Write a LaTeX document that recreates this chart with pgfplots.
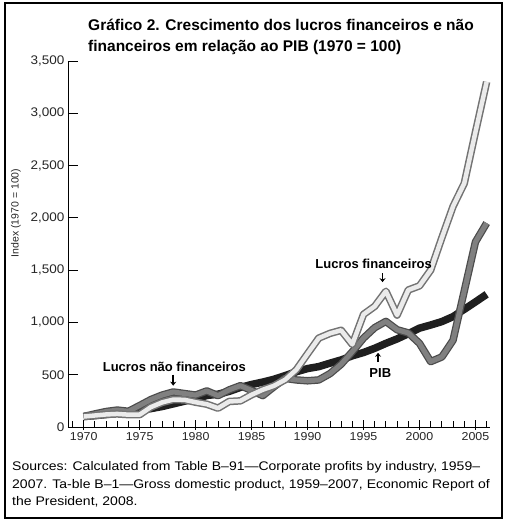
\documentclass[border=0pt]{standalone}
\usepackage{fontspec}
\setmainfont{Liberation Sans}
\newfontfamily\srcfont[FakeStretch=1.12]{Liberation Sans}
\newfontfamily\tickfont[FakeStretch=1.08]{Liberation Sans}
\usepackage{pgfplots}
\usepackage{pgfplotstable}
\pgfplotsset{compat=1.18}
\usetikzlibrary{arrows.meta}

\pgfplotstableread{
year pib nf fin
1970 100 100 100
1971 108.5 125 110
1972 119.2 148 120
1973 133.1 162 125
1974 144.4 150 118
1975 157.8 205 118
1976 175.8 262 190
1977 195.6 305 235
1978 221.0 335 262
1979 246.8 320 260
1980 268.6 305 237
1981 301.2 345 218
1982 313.4 300 180
1983 340.6 355 244
1984 378.7 395 250
1985 406.4 350 308
1986 429.7 300 356
1987 456.4 385 394
1988 491.5 465 452
1989 528.1 450 548
1990 558.8 442 700
1991 577.4 450 850
1992 610.3 510 895
1993 641.1 600 925
1994 681.0 720 790
1995 712.3 850 1077
1996 752.7 950 1154
1997 799.6 1010 1298
1998 842.3 930 1070
1999 892.5 900 1310
2000 945.3 800 1350
2001 975.3 625 1500
2002 1008.1 670 1810
2003 1055.4 830 2110
2004 1125.3 1300 2330
2005 1196.2 1770 2820
2006 1269.0 1950 3300
}\data

\begin{document}
\begin{tikzpicture}
\useasboundingbox (-68pt,-96pt) rectangle (440pt,427pt);
\draw[line width=1.1pt] (-63pt,424pt) rectangle (434pt,-91pt);
\node[anchor=base west, inner sep=0pt, font=\fontsize{15.5}{18}\selectfont\bfseries] at (20pt,396pt) {Gráfico 2. Crescimento dos lucros financeiros e não};
\node[anchor=base west, inner sep=0pt, font=\fontsize{15.5}{18}\selectfont\bfseries] at (20pt,375pt) {financeiros em relação ao PIB (1970 = 100)};
\node[anchor=base west, inner sep=0pt, font=\srcfont\fontsize{12.5}{15}\selectfont] at (-56pt,-43pt) {Sources: Calculated from Table B–91—Corporate profits by industry, 1959–};
\node[anchor=base west, inner sep=0pt, font=\srcfont\fontsize{12.5}{15}\selectfont] at (-56pt,-61pt) {2007. Ta-ble B–1—Gross domestic product, 1959–2007, Economic Report of};
\node[anchor=base west, inner sep=0pt, font=\srcfont\fontsize{12.5}{15}\selectfont] at (-56pt,-78pt) {the President, 2008.};
\node[rotate=90, inner sep=0pt, font=\fontsize{10.5}{12}\selectfont, text=black!85] at (-52pt,214pt) {Index (1970 = 100)};
\begin{axis}[
  at={(0pt,0pt)}, anchor=south west,
  scale only axis, width=422pt, height=366pt,
  xmin=1968.6, xmax=2006.3, ymin=0, ymax=3500,
  axis x line*=bottom, axis y line*=left,
  axis line style={line width=0.8pt, -},
  xtick={1970,1975,...,2005},
  minor xtick={1969,...,2006},
  ytick={0,500,...,3500},
  tick align=inside,
  major tick length=10pt, minor tick length=6pt,
  every tick/.style={black, line width=0.8pt},
  every major x tick/.append style={yshift=-3pt},
  /pgf/number format/.cd, 1000 sep={,}, assume math mode=true,
  /pgfplots/.cd,
  xticklabel={\pgfmathprintnumber[1000 sep={}]{\tick}},
  xticklabel style={font=\tickfont\fontsize{11.5}{12}\selectfont, text=black!85, yshift=-2pt},
  yticklabel style={font=\tickfont\fontsize{12.5}{13}\selectfont, text=black!85},
  clip=false,
]
\addplot[line width=7.5pt, color=black!88, line join=round, line cap=butt] table[x=year,y=pib] {\data};
\addplot[line width=7.5pt, color=black!70, line join=round] table[x=year,y=nf] {\data};
\addplot[line width=5pt, color=black!50, line join=round] table[x=year,y=nf] {\data};
\addplot[line width=7.5pt, color=black!55, line join=round] table[x=year,y=fin] {\data};
\addplot[line width=4.5pt, color=black!8, line join=round] table[x=year,y=fin] {\data};

\node[font=\fontsize{13}{15}\selectfont\bfseries] at (axis cs:1978.1,575) {Lucros não financeiros};
\draw[-{Stealth[length=4pt,width=6pt]}, line width=1.6pt] (axis cs:1978,500) -- (axis cs:1978,395);
\node[font=\fontsize{13}{15}\selectfont\bfseries] at (axis cs:1995.9,1560) {Lucros financeiros};
\draw[-{Stealth[length=4pt,width=6pt]}, line width=1.6pt] (axis cs:1996.7,1470) -- (axis cs:1996.7,1385);
\node[font=\fontsize{13}{15}\selectfont\bfseries] at (axis cs:1996.5,515) {PIB};
\draw[-{Stealth[length=4pt,width=6pt]}, line width=1.6pt] (axis cs:1996.3,620) -- (axis cs:1996.3,710);
\end{axis}
\end{tikzpicture}
\end{document}
